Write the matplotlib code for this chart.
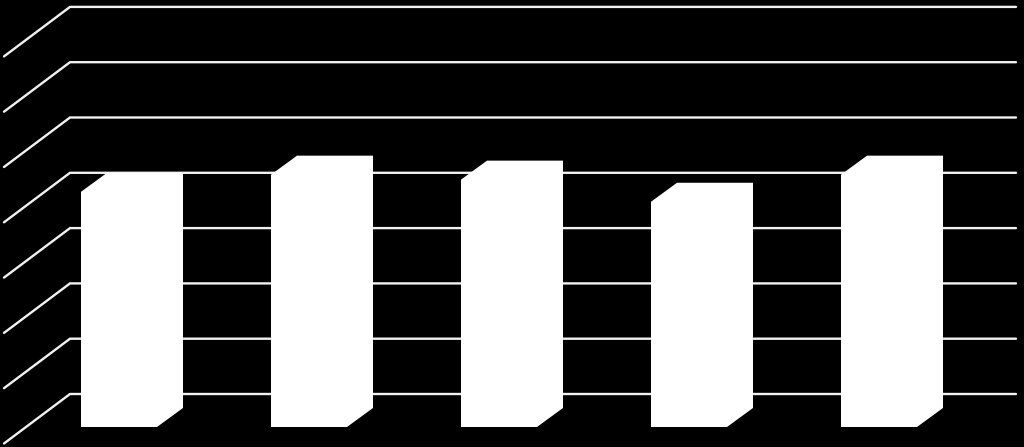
import matplotlib
matplotlib.use("Agg")
import matplotlib.pyplot as plt
from matplotlib.patches import Polygon

W, H = 1024, 447
categories = [0, 1, 2, 3, 4]
values = [4.00, 4.31, 4.22, 3.82, 4.31]
grid_values = [0, 1, 2, 3, 4, 5, 6, 7]

# scale: one value unit and one category step, in pixels
PX_UNIT = 55.3
PX_CAT = 190.0
WALL_BASE = 394.0
CAT0_X = 81.0      # front-left x of the first bar

fig = plt.figure(figsize=(W / 100, H / 100), dpi=100, facecolor="black")
ax = fig.add_axes([0, 0, 1, 1], facecolor="black")
ax.set_xlim(-CAT0_X / PX_CAT, (W - CAT0_X) / PX_CAT)
ax.set_ylim((WALL_BASE - H) / PX_UNIT, WALL_BASE / PX_UNIT)
ax.axis("off")

# projection helpers, expressed in data units
wall_left = (70 - CAT0_X) / PX_CAT
wall_right = (1016 - CAT0_X) / PX_CAT
side_dx = 66 / PX_CAT
side_dy = 49.5 / PX_UNIT
bar_w = 76 / PX_CAT
bar_dx = 26 / PX_CAT
bar_dy = 19 / PX_UNIT
bar_back_base = -14 / PX_UNIT   # back base of bars, below the wall base

for g in grid_values:
    ax.plot([wall_left - side_dx, wall_left, wall_right],
            [g - side_dy, g, g],
            color="#f2f2f2", lw=1.7, solid_joinstyle="miter",
            solid_capstyle="round", zorder=1)

for c, v in zip(categories, values):
    top = v
    base = bar_back_base
    pts = [(c, base - bar_dy), (c + bar_w, base - bar_dy),
           (c + bar_w + bar_dx, base), (c + bar_w + bar_dx, top),
           (c + bar_dx, top), (c, top - bar_dy)]
    ax.add_patch(Polygon(pts, closed=True, facecolor="white",
                         edgecolor="none", zorder=2))

fig.savefig("out.png", dpi=100, facecolor="black")
